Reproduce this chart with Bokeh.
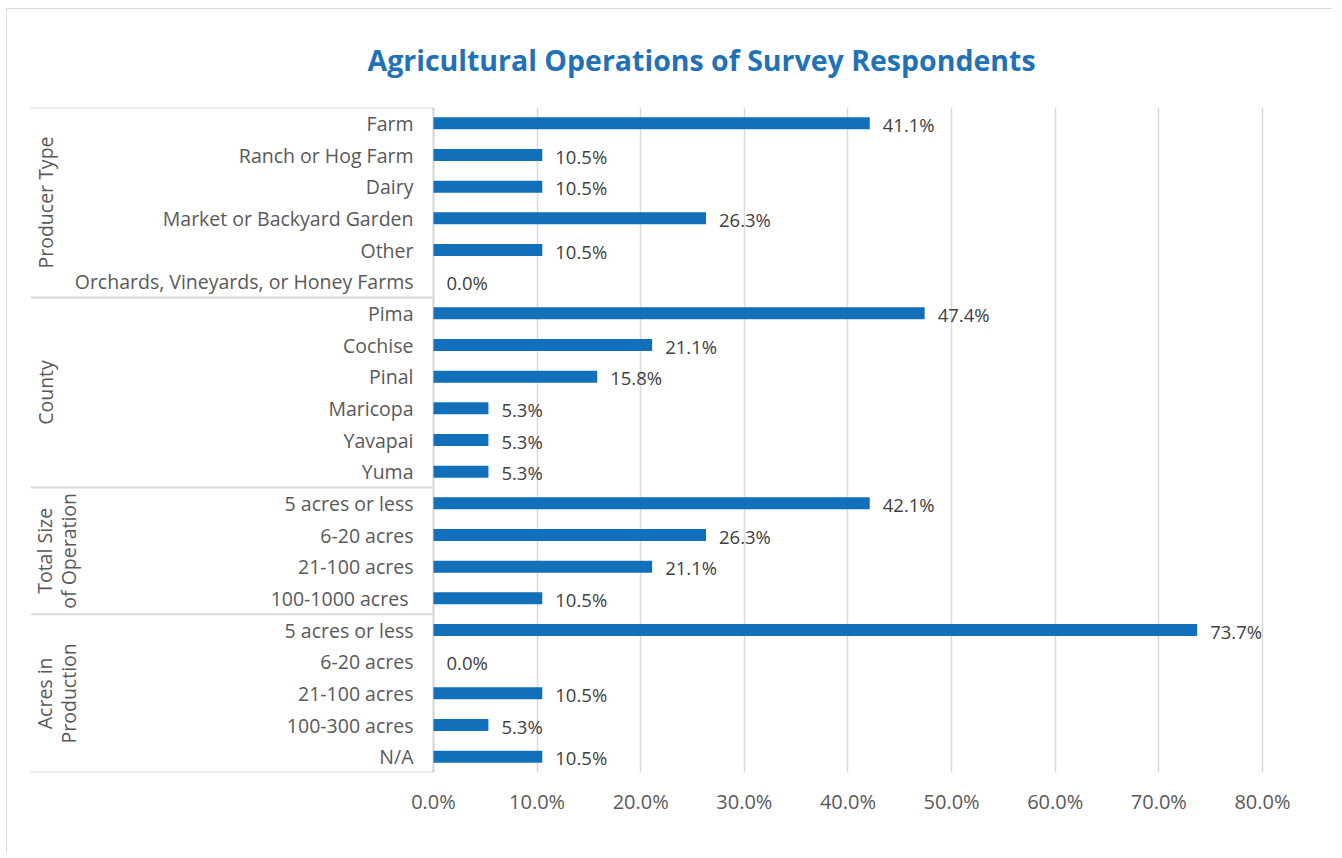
import math
from bokeh.plotting import figure
from bokeh.models import Range1d, FixedTicker, PrintfTickFormatter
from bokeh.core.properties import value
from bokeh.embed import file_html
from bokeh.resources import INLINE

# ---------------- data ----------------
title_text = "Agricultural Operations of Survey Respondents"
group_line1 = ["Producer Type", "County", "Total Size", "Acres in"]
group_line2 = ["", "", "of Operation", "Production"]
group_sizes = [6, 6, 4, 5]

categories = [
    "Farm", "Ranch or Hog Farm", "Dairy", "Market or Backyard Garden", "Other",
    "Orchards, Vineyards, or Honey Farms",
    "Pima", "Cochise", "Pinal", "Maricopa", "Yavapai", "Yuma",
    "5 acres or less", "6-20 acres", "21-100 acres", "100-1000 acres ",
    "5 acres or less", "6-20 acres", "21-100 acres", "100-300 acres", "N/A",
]
values = [
    42.1, 10.5, 10.5, 26.3, 10.5, 0.0,
    47.4, 21.1, 15.8, 5.3, 5.3, 5.3,
    42.1, 26.3, 21.1, 10.5,
    73.7, 0.0, 10.5, 5.3, 10.5,
]
value_labels = [
    "41.1%", "10.5%", "10.5%", "26.3%", "10.5%", "0.0%",
    "47.4%", "21.1%", "15.8%", "5.3%", "5.3%", "5.3%",
    "42.1%", "26.3%", "21.1%", "10.5%",
    "73.7%", "0.0%", "10.5%", "5.3%", "10.5%",
]
x_ticks = [0, 10, 20, 30, 40, 50, 60, 70, 80]

# ---------------- layout helpers ----------------
n = len(categories)
rows = list(range(n))
X_LEFT = -38.89
X_RIGHT = 83.67

FONT = value("Open Sans")
GRAY = "#D9D9D9"
TXT = "#595959"
BLUE = "#1270BA"

p = figure(
    width=1326, height=845,
    output_backend="svg", toolbar_location=None,
    x_range=Range1d(X_LEFT, X_RIGHT), y_range=Range1d(n - 0.5, -0.5),
    y_axis_location=None,
    min_border_left=23, min_border_right=33, min_border_top=98, min_border_bottom=82,
    styles={"border-left": "1px solid #D9D9D9", "border-top": "1px solid #D9D9D9",
            "margin-left": "6px", "margin-top": "8px"},
)
p.outline_line_color = None
p.background_fill_color = "white"
p.border_fill_color = "white"

# title
p.title.text = title_text
p.title.text_font = "Open Sans"
p.title.text_font_style = "bold"
p.title.text_font_size = "28.5px"
p.title.text_color = "#1F72B8"
p.title.align = "left"
p.title.offset = 337
p.title.standoff = 58

# grid
p.ygrid.visible = False
p.xgrid.ticker = FixedTicker(ticks=x_ticks)
p.xgrid.grid_line_color = GRAY
p.xgrid.grid_line_width = 1.5

# x axis
ax = p.xaxis[0]
ax.ticker = FixedTicker(ticks=x_ticks)
ax.formatter = PrintfTickFormatter(format="%.1f%%")
ax.axis_line_color = None
ax.major_tick_line_color = None
ax.minor_tick_line_color = None
ax.major_label_standoff = 9
ax.major_label_text_font = "Open Sans"
ax.major_label_text_font_size = "20px"
ax.major_label_text_color = TXT

# table lines
bounds = [-0.5]
for s in group_sizes:
    bounds.append(bounds[-1] + s)
p.segment(x0=[X_LEFT] * len(bounds), x1=[0] * len(bounds), y0=bounds, y1=bounds,
          line_color=GRAY, line_width=2)
p.segment(x0=[0], x1=[0], y0=[bounds[0]], y1=[bounds[-1]], line_color=GRAY, line_width=2)

# bars
p.hbar(y=rows, left=0, right=values, height=0.38, fill_color=BLUE, line_color=None)

# category labels
p.text(x=[-1.93] * n, y=rows, text=categories, text_align="right", text_baseline="middle",
       text_font=FONT, text_font_size="19.5px", text_color=TXT)

# value labels
p.text(x=values, y=rows, text=value_labels, x_offset=13, y_offset=1,
       text_align="left", text_baseline="middle",
       text_font=FONT, text_font_size="18.5px", text_color="#404040")

# group labels
centers = []
for i, s in enumerate(group_sizes):
    centers.append((bounds[i] + bounds[i + 1]) / 2)
gx1, gy1, gt1 = [], [], []
for i in range(len(group_sizes)):
    if group_line2[i]:
        gx1 += [-37.5, -35.2]
        gy1 += [centers[i], centers[i]]
        gt1 += [group_line1[i], group_line2[i]]
    else:
        gx1.append(-37.4)
        gy1.append(centers[i])
        gt1.append(group_line1[i])
p.text(x=gx1, y=gy1, text=gt1, angle=math.pi / 2, text_align="center", text_baseline="middle",
       text_font=FONT, text_font_size="19.5px", text_color=TXT)

open("out.html", "w").write(file_html(p, INLINE))
